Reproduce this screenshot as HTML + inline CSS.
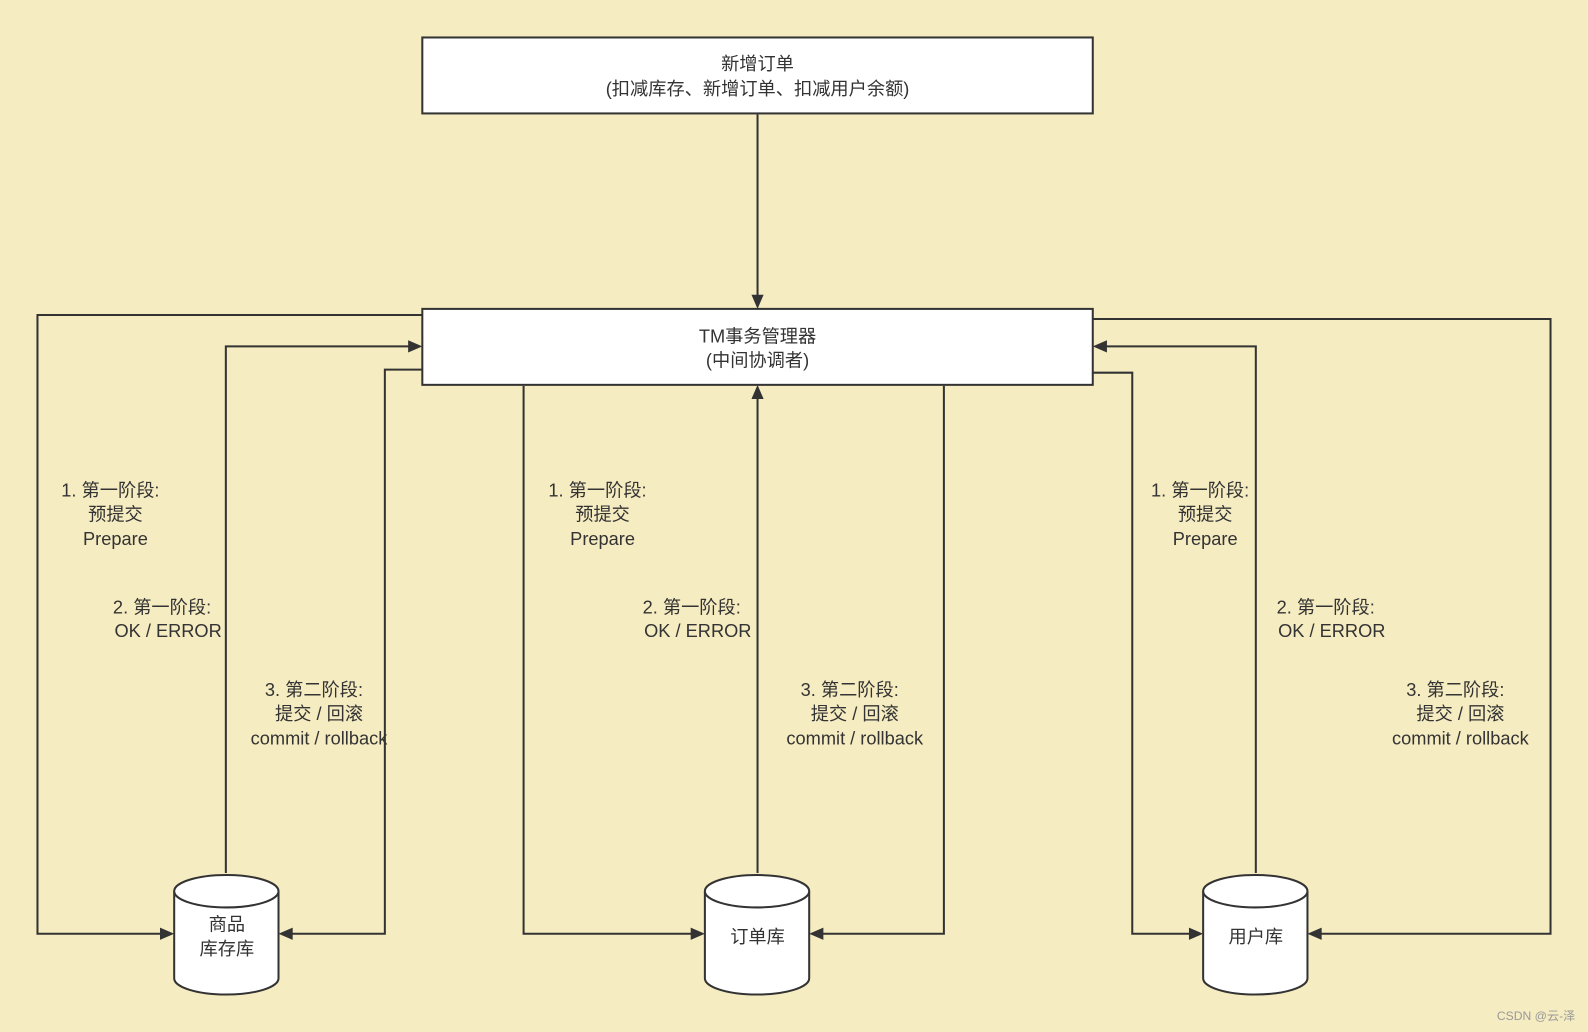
<!DOCTYPE html>
<html><head><meta charset="utf-8"><style>
html,body{margin:0;padding:0;background:#f6ecc1;}
svg{display:block;}
text{font-family:"Liberation Sans","Noto Sans CJK SC",sans-serif;fill:#333;font-size:18px;}
</style></head><body>
<svg width="1588" height="1032" viewBox="0 0 1568 1019" preserveAspectRatio="none" xmlns="http://www.w3.org/2000/svg">
<rect width="1568" height="1019" fill="#f6ecc1"/>
<g fill="none" stroke="#333" stroke-width="2">
<rect x="417" y="37" width="662" height="75" fill="#fff"/>
<rect x="417" y="305" width="662" height="75" fill="#fff"/>
<path d="M748 113V293"/>
<path d="M417 311H37V922H160"/>
<path d="M223 862V342H405"/>
<path d="M417 365H380V922H287"/>
<path d="M517 381V922H684"/>
<path d="M748 862V393"/>
<path d="M932 381V922H811"/>
<path d="M1079 315H1531V922H1303"/>
<path d="M1240 862V342H1091"/>
<path d="M1079 368H1118V922H1176"/>
</g>
<g fill="#333">
<path d="M748 305l-6-14h12z"/>
<path d="M172 922l-14-6v12z"/>
<path d="M417 342l-14-6v12z"/>
<path d="M275 922l14-6v12z"/>
<path d="M696 922l-14-6v12z"/>
<path d="M748 380l-6 14h12z"/>
<path d="M799 922l14-6v12z"/>
<path d="M1291 922l14-6v12z"/>
<path d="M1079 342l14-6v12z"/>
<path d="M1188 922l-14-6v12z"/>
</g>
<g fill="#fff" stroke="#333" stroke-width="2">
<path d="M172 880V966A51.5 16 0 0 0 275 966V880"/>
<ellipse cx="223.5" cy="880" rx="51.5" ry="16"/>
<path d="M696 880V966A51.5 16 0 0 0 799 966V880"/>
<ellipse cx="747.5" cy="880" rx="51.5" ry="16"/>
<path d="M1188 880V966A51.5 16 0 0 0 1291 966V880"/>
<ellipse cx="1239.5" cy="880" rx="51.5" ry="16"/>
</g>
<g text-anchor="middle">
<text x="748" y="69">新增订单</text>
<text x="748" y="94">(扣减库存、新增订单、扣减用户余额)</text>
<text x="748" y="338">TM事务管理器</text>
<text x="748" y="362">(中间协调者)</text>
<text x="224" y="919">商品</text>
<text x="224" y="943">库存库</text>
<text x="748" y="931">订单库</text>
<text x="1240" y="931">用户库</text>
<text x="109" y="490">1. 第一阶段:</text><text x="114" y="514">预提交</text><text x="114" y="538">Prepare</text>
<text x="590" y="490">1. 第一阶段:</text><text x="595" y="514">预提交</text><text x="595" y="538">Prepare</text>
<text x="1185" y="490">1. 第一阶段:</text><text x="1190" y="514">预提交</text><text x="1190" y="538">Prepare</text>
<text x="160" y="606">2. 第一阶段:</text><text x="166" y="629">OK / ERROR</text>
<text x="683" y="606">2. 第一阶段:</text><text x="689" y="629">OK / ERROR</text>
<text x="1309" y="606">2. 第一阶段:</text><text x="1315" y="629">OK / ERROR</text>
<text x="310" y="687">3. 第二阶段:</text><text x="315" y="711">提交 / 回滚</text><text x="315" y="735">commit / rollback</text>
<text x="839" y="687">3. 第二阶段:</text><text x="844" y="711">提交 / 回滚</text><text x="844" y="735">commit / rollback</text>
<text x="1437" y="687">3. 第二阶段:</text><text x="1442" y="711">提交 / 回滚</text><text x="1442" y="735">commit / rollback</text>
</g>
<text x="1478" y="1007" style="font-size:12px;fill:#999">CSDN @云-泽</text>
</svg>
</body></html>
